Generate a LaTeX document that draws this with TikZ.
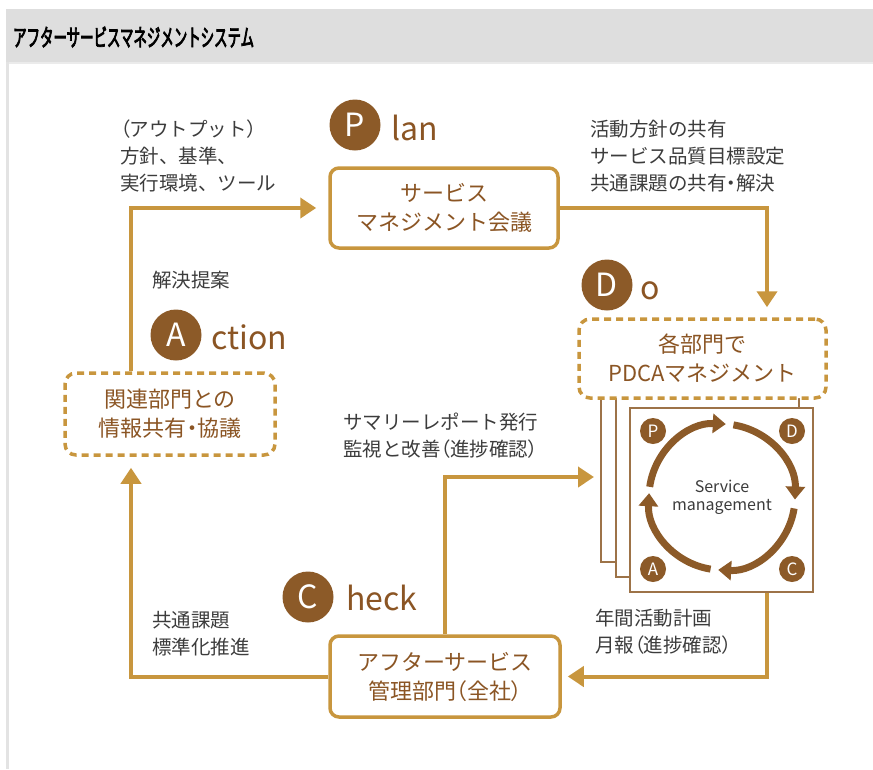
\documentclass[tikz,border=0pt]{standalone}
\usepackage{fontspec}
\setmainfont{Noto Sans CJK JP}
\newfontfamily\titlefont{Noto Sans CJK JP}[FakeStretch=0.56,FakeBold=3]
\newfontfamily\palfont{Noto Sans CJK JP}[RawFeature=+palt]
\newcommand\mdot{{\palfont ・}}
\newcommand\lpar{{\palfont （}}
\newcommand\rpar{{\palfont ）}}
\usetikzlibrary{arrows.meta,calc}
\definecolor{gold}{HTML}{C8963E}
\definecolor{brn}{HTML}{8C5A28}
\definecolor{btxt}{HTML}{8B5524}
\definecolor{txt}{HTML}{3C3C3C}
\definecolor{hdr}{HTML}{DEDEDE}
\definecolor{edge}{HTML}{E3E3E3}
\tikzset{
  boxtext/.style={text=btxt,font=\fontsize{22}{29}\selectfont,align=center,inner sep=0pt},
  solidbox/.style={boxtext,draw=gold,line width=3.5pt,rounded corners=9pt,fill=white},
  dashbox/.style={boxtext,draw=gold,line width=3.5pt,rounded corners=11pt,fill=white,dash pattern=on 7pt off 5pt},
  conn/.style={draw=gold,line width=4pt,-{Triangle[length=16pt,width=20pt]}},
  label/.style={text=txt,font=\fontsize{19.5}{27}\selectfont,align=left,anchor=west,inner sep=0pt},
  bigcirc/.style={circle,fill=brn,minimum size=51pt,inner sep=0pt,text=white,font=\fontsize{32}{32}\selectfont},
  suffix/.style={text=btxt,font=\fontsize{32}{32}\selectfont,anchor=base west,inner sep=0pt},
  smallcirc/.style={circle,fill=brn,minimum size=26pt,inner sep=0pt,text=white,font=\fontsize{17}{17}\selectfont},
  card/.style={draw=brn!85,line width=1.3pt,fill=white},
  cyc/.style={draw=brn,line width=7pt,-{Triangle[length=13pt,width=19pt]}},
}
\begin{document}
\begin{tikzpicture}[x=1pt,y=-1pt]
\useasboundingbox (0,0) rectangle (873,769);
% header and frame
\fill[hdr] (6,9) rectangle (873,62);
\fill[edge!70] (6,62) rectangle (873,64);
\fill[edge] (6,62) rectangle (9,769);
\node[anchor=west,inner sep=0pt,font=\titlefont\fontsize{24}{24}\selectfont] (title) at (13,37) {アフターサービスマネジメントシステム};

% PDCA cards
\draw[card] (601,378) rectangle (784,562);
\draw[card] (616,393) rectangle (799,577);
\node[card,minimum width=183pt,minimum height=184pt,inner sep=0pt] (front) at (721.5,500) {};

% main boxes
\node[solidbox,minimum width=228pt,minimum height=80pt] (plan) at (444,208) {サービス\\マネジメント会議};
\node[dashbox,minimum width=247pt,minimum height=79pt] (do) at (702.5,358.5) {各部門で\\PDCAマネジメント};
\node[solidbox,minimum width=230pt,minimum height=81pt] (check) at (445,676.5) {アフターサービス\\管理部門\lpar 全社\rpar};
\node[dashbox,minimum width=210pt,minimum height=82pt] (act) at (170,414) {関連部門との\\情報共有\mdot 協議};

% big letters
\node[bigcirc] (cp) at (355,125) {P};
\node[suffix] (sp) at (391,140) {lan};
\node[bigcirc] (cd) at (607,285) {D};
\node[suffix] (sd) at (640,299) {o};
\node[bigcirc] (ca) at (176,335) {A};
\node[suffix] (sa) at (211,349) {ction};
\node[bigcirc] (cc) at (308,597) {C};
\node[suffix] (sc) at (346,610) {heck};

% connectors
\coordinate (lx) at (131,0);
\coordinate (rx) at (767,0);
\coordinate (cardin) at (603,477);
\draw[conn,shorten >=12pt] (act.north -| lx) |- (plan.west);
\draw[conn,shorten >=10pt] (plan.east) -| (do.north -| rx);
\draw[conn,shorten >=6pt] (front.south -| rx) |- (check.east);
\draw[conn,shorten >=9pt] (check.north) |- (cardin);
\draw[conn,shorten >=11pt] (check.west) -| (act.south -| lx);

% cycle
\coordinate (cy) at (722,497);
\draw[cyc] ($(cy)+(-172:73)$) arc[start angle=-172,end angle=-87,radius=73];
\draw[cyc] ($(cy)+(-81:73)$) arc[start angle=-81,end angle=2,radius=73];
\draw[cyc] ($(cy)+(9:73)$) arc[start angle=9,end angle=93,radius=73];
\draw[cyc] ($(cy)+(99:73)$) arc[start angle=99,end angle=183,radius=73];
\node[text=txt,font=\fontsize{16}{18}\selectfont,align=center,inner sep=0pt] (svc) at (cy) {Service\\management};
\node[smallcirc] (sp1) at (653,431) {P};
\node[smallcirc] (sd1) at (792,431) {D};
\node[smallcirc] (sa1) at (653,569) {A};
\node[smallcirc] (sc1) at (792,569) {C};

% labels
\node[label] (l1) at (120,156) {\lpar アウトプット\rpar\\方針、基準、\\実行環境、ツール};
\node[label] (l2) at (152,280) {解決提案};
\node[label] (l3) at (590,156) {活動方針の共有\\サービス品質目標設定\\共通課題の共有\mdot 解決};
\node[label] (l4) at (343,436) {サマリーレポート発行\\監視と改善\lpar 進捗確認\rpar};
\node[label] (l5) at (595,632) {年間活動計画\\月報\lpar 進捗確認\rpar};
\node[label] (l6) at (152,634) {共通課題\\標準化推進};
\end{tikzpicture}
\end{document}
